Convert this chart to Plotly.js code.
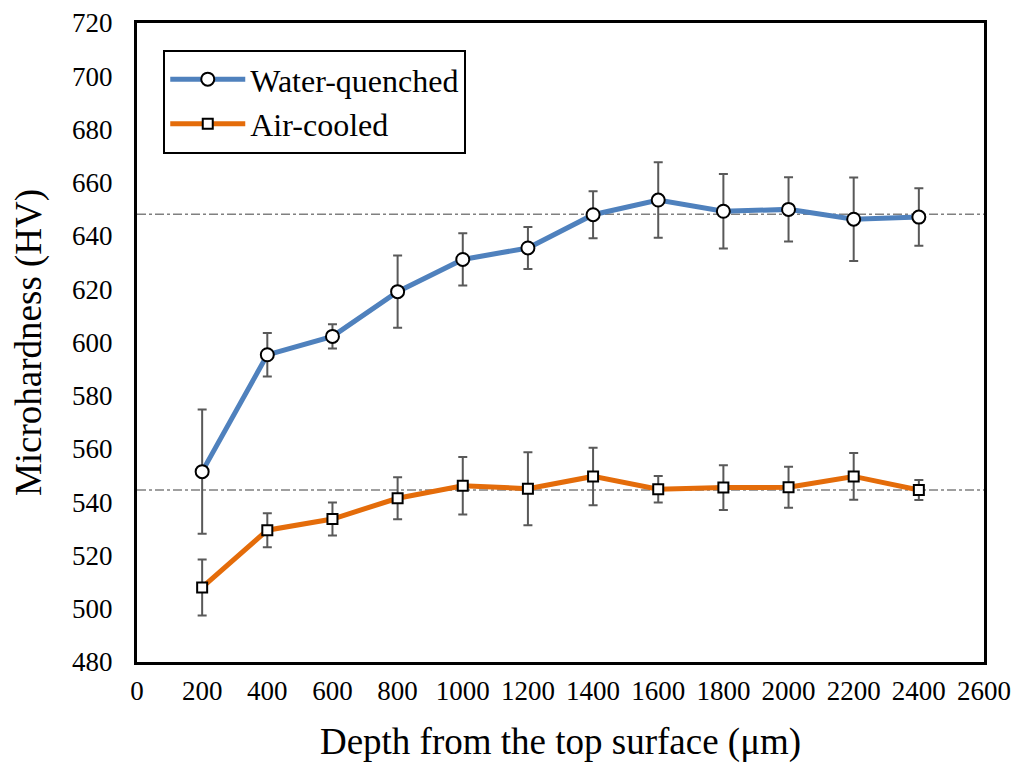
<!DOCTYPE html>
<html>
<head>
<meta charset="utf-8">
<script src="https://cdn.plot.ly/plotly-3.0.1.min.js"></script>
<style>html,body{margin:0;padding:0;background:#fff;}#chart{width:1025px;height:763px;}</style>
</head>
<body>
<div id="chart"></div>
<script>
const depth = [200, 400, 600, 800, 1000, 1200, 1400, 1600, 1800, 2000, 2200, 2400];
const waterQuenched = [551.5, 595.4, 602.3, 619.1, 631.2, 635.5, 648.0, 653.5, 649.3, 650.0, 646.3, 647.1];
const waterErr = [23.3, 8.2, 4.6, 13.6, 9.8, 7.9, 8.8, 14.2, 14.0, 12.1, 15.7, 10.8];
const airCooled = [508.0, 529.5, 533.7, 541.5, 546.2, 545.1, 549.7, 544.9, 545.5, 545.6, 549.7, 544.6];
const airErr = [10.5, 6.4, 6.2, 7.9, 10.8, 13.7, 10.8, 5.0, 8.4, 7.7, 8.8, 3.8];
const refLevels = [648.2, 544.6];
const xRange = [0, 2600];

const font = '"Liberation Serif", "Times New Roman", serif';
const errStyle = {type: 'data', visible: true, color: '#595959', thickness: 2, width: 4.5};

const traces = [
  {
    x: depth, y: waterQuenched, name: 'Water-quenched', mode: 'lines+markers',
    line: {color: '#4F81BD', width: 5},
    marker: {symbol: 'circle', size: 13, color: '#ffffff', line: {color: '#000000', width: 2}},
    error_y: Object.assign({array: waterErr}, errStyle)
  },
  {
    x: depth, y: airCooled, name: 'Air-cooled', mode: 'lines+markers',
    line: {color: '#E46C0A', width: 5},
    marker: {symbol: 'square', size: 10, color: '#ffffff', line: {color: '#000000', width: 2}},
    error_y: Object.assign({array: airErr}, errStyle)
  }
];

const shapes = refLevels.map(v => ({
  type: 'line', xref: 'x', yref: 'y', x0: xRange[0], x1: xRange[1], y0: v, y1: v,
  line: {color: '#808080', width: 1.5, dash: 'dashdot'}, layer: 'below'
}));

const layout = {
  width: 1025, height: 763,
  margin: {l: 137, r: 41, t: 23, b: 101},
  paper_bgcolor: '#ffffff', plot_bgcolor: '#ffffff',
  font: {family: font, color: '#000000', size: 27},
  showlegend: true,
  legend: {
    x: 0.031, y: 0.958, xanchor: 'left', yanchor: 'top',
    bgcolor: '#ffffff', bordercolor: '#000000', borderwidth: 2,
    font: {family: font, size: 32, color: '#000000'},
    itemwidth: 75, tracegroupgap: 0
  },
  xaxis: {
    range: xRange, dtick: 200, tick0: 0, showgrid: false, zeroline: false,
    showline: true, linecolor: '#000000', linewidth: 3, mirror: true,
    ticks: '', ticklen: 0, ticklabelstandoff: 3,
    tickfont: {family: font, size: 27, color: '#000000'},
    title: {text: 'Depth from the top surface (μm)', font: {family: font, size: 37, color: '#000000'}, standoff: 28}
  },
  yaxis: {
    range: [480, 720], dtick: 20, tick0: 480, showgrid: false, zeroline: false,
    showline: true, linecolor: '#000000', linewidth: 3, mirror: true,
    ticks: '', ticklen: 0, ticklabelstandoff: 16,
    tickfont: {family: font, size: 27, color: '#000000'},
    title: {text: 'Microhardness (HV)', font: {family: font, size: 37, color: '#000000'}, standoff: 20}
  },
  shapes: shapes
};

Plotly.newPlot('chart', traces, layout, {displayModeBar: false, staticPlot: true});
</script>
</body>
</html>
